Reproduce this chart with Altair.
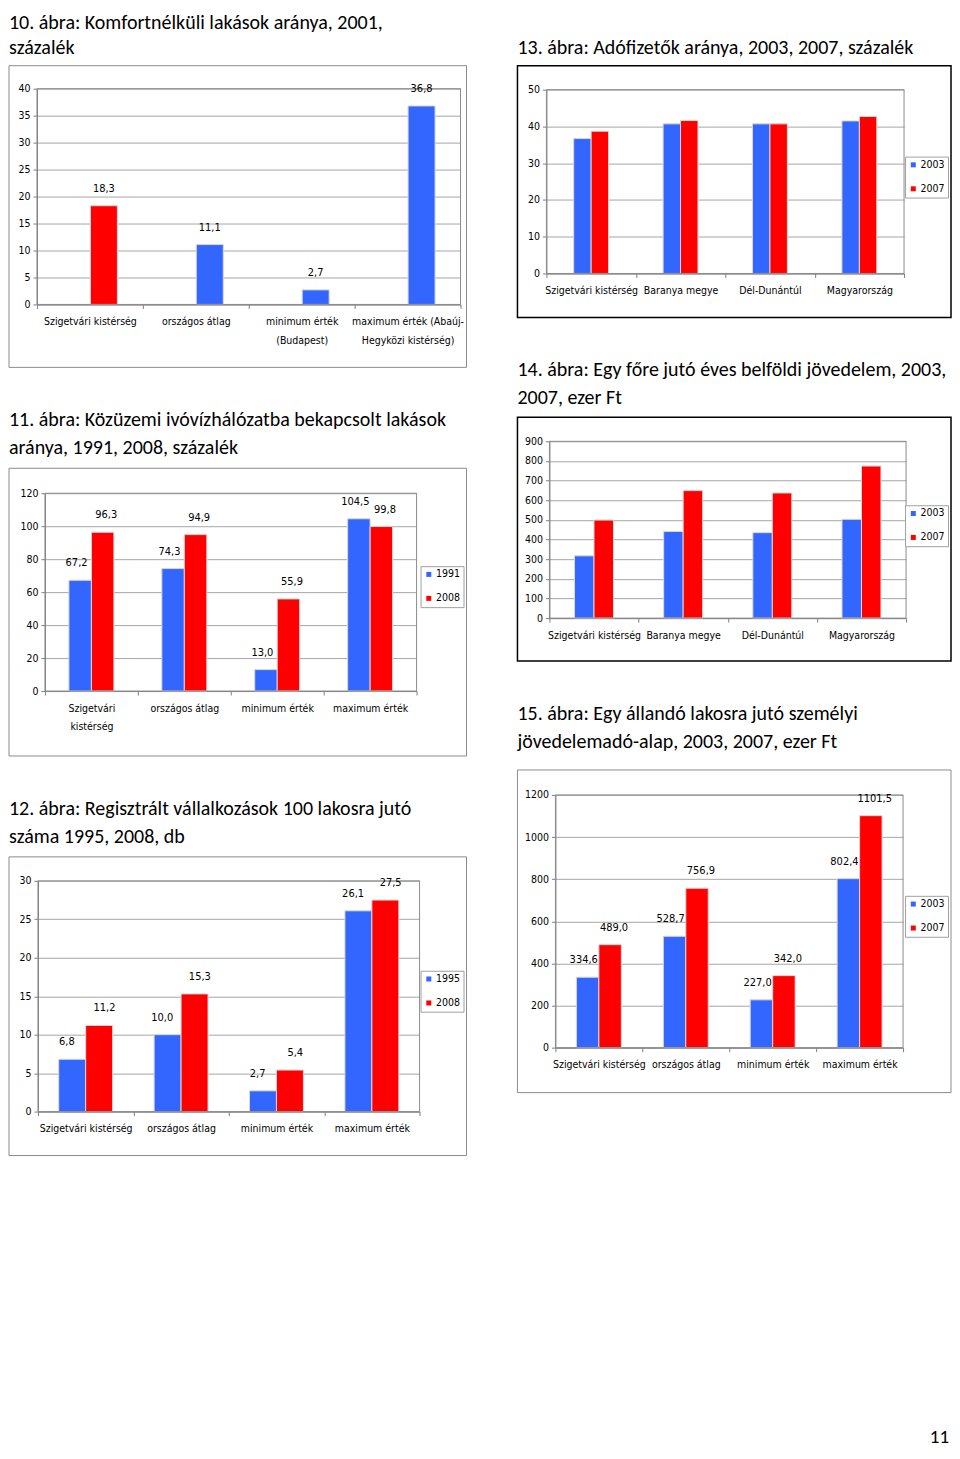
import altair as alt
import pandas as pd

NARROW = "Liberation Sans Narrow, Arial Narrow, DejaVu Sans Condensed, Liberation Sans, Arial, sans-serif"
TFONT = "Carlito, Calibri, Lato, sans-serif"
BLUE = "#3366ff"
RED = "#ff0000"
GRAY = "#8c8c8c"

# ---------------- data ----------------
t10 = ["10. ábra: Komfortnélküli lakások aránya, 2001,", "százalék"]
c10_cats = ["Szigetvári kistérség", "országos átlag", "minimum érték|(Budapest)",
            "maximum érték (Abaúj-|Hegyközi kistérség)"]
c10_vals = [18.3, 11.1, 2.7, 36.8]
c10_colors = [RED, BLUE, BLUE, BLUE]

t11 = ["11. ábra: Közüzemi ivóvízhálózatba bekapcsolt lakások", "aránya, 1991, 2008, százalék"]
c11_cats = ["Szigetvári|kistérség", "országos átlag", "minimum érték", "maximum érték"]
c11_series = ["1991", "2008"]
c11_a = [67.2, 74.3, 13.0, 104.5]
c11_b = [96.3, 94.9, 55.9, 99.8]

t12 = ["12. ábra: Regisztrált vállalkozások 100 lakosra jutó", "száma 1995, 2008, db"]
c12_cats = ["Szigetvári kistérség", "országos átlag", "minimum érték", "maximum érték"]
c12_series = ["1995", "2008"]
c12_a = [6.8, 10.0, 2.7, 26.1]
c12_b = [11.2, 15.3, 5.4, 27.5]

t13 = [" ", "13. ábra: Adófizetők aránya, 2003, 2007, százalék"]
c13_cats = ["Szigetvári kistérség", "Baranya megye", "Dél-Dunántúl", "Magyarország"]
c13_series = ["2003", "2007"]
c13_a = [36.7, 40.7, 40.7, 41.5]
c13_b = [38.7, 41.6, 40.7, 42.7]

t14 = ["14. ábra: Egy főre jutó éves belföldi jövedelem, 2003,", "2007, ezer Ft"]
c14_cats = ["Szigetvári kistérség", "Baranya megye", "Dél-Dunántúl", "Magyarország"]
c14_series = ["2003", "2007"]
c14_a = [317, 441, 435, 503]
c14_b = [499, 649, 637, 774]

t15 = ["15. ábra: Egy állandó lakosra jutó személyi", "jövedelemadó-alap, 2003, 2007, ezer Ft"]
c15_cats = ["Szigetvári kistérség", "országos átlag", "minimum érték", "maximum érték"]
c15_series = ["2003", "2007"]
c15_a = [334.6, 528.7, 227.0, 802.4]
c15_b = [489.0, 756.9, 342.0, 1101.5]

page_number = ["11"]

LABEL_EXPR = "replace(format(datum.v, '.1f'), '.', ',')"
FS_AXIS = 10.5
FS_VAL = 11
WL = 458   # left frames
WR = 434   # right frames


def deco(W, H, pl, pt, pr, pb, frame_color, frame_w, tlines, ty):
    one = pd.DataFrame({"k": [0]})
    frame = alt.Chart(one).mark_rect(fillOpacity=0, stroke=frame_color, strokeWidth=frame_w).encode(
        x=alt.value(0), x2=alt.value(W), y=alt.value(0), y2=alt.value(H))
    border = alt.Chart(one).mark_rect(fillOpacity=0, stroke=GRAY, strokeWidth=1).encode(
        x=alt.value(pl), x2=alt.value(pr), y=alt.value(pt), y2=alt.value(pb))
    tl = []
    for line, yy in zip(tlines, ty):
        tl.append(alt.Chart(pd.DataFrame({"t": [line]})).mark_text(
            font=TFONT, fontSize=20, align="left", baseline="alphabetic", color="black").encode(
            x=alt.value(0), y=alt.value(yy), text="t:N"))
    return frame, border, tl


def axes(cats, W, H, pl, pt, pr, pb, ymax, ystep):
    x = alt.X("cat:N", sort=cats,
              scale=alt.Scale(domain=cats, range=[pl, pr], paddingInner=0, paddingOuter=0),
              axis=alt.Axis(title=None, orient="bottom", offset=-(H - pb), tickBand="extent",
                            labelAngle=0, labelExpr="split(datum.label, '|')",
                            labelFont=NARROW, labelFontSize=FS_AXIS, labelColor="black",
                            labelLineHeight=19, labelPadding=8, labelOverlap=False,
                            domainColor="#808080", tickColor="#808080", tickSize=4, grid=False))
    y = alt.Y("v:Q",
              scale=alt.Scale(domain=[0, ymax], range=[pb, pt], nice=False, zero=True),
              axis=alt.Axis(title=None, orient="left", offset=-pl, format="d",
                            values=list(range(0, ymax + 1, ystep)),
                            labelFont=NARROW, labelFontSize=FS_AXIS, labelColor="black", labelPadding=3,
                            domainColor="#808080", tickColor="#808080", tickSize=4,
                            grid=True, gridColor="#a6a6a6", gridWidth=1))
    return x, y


def offset_channel(series, frac):
    # bars of the two series side by side, the pair covering `frac` of the category band
    if frac >= 0.5:
        dom = list(series)
        q = 1.0 / frac - 1.0
    else:
        dom = ["_a"] + list(series) + ["_b"]
        q = (2.0 / frac - 4.0) / 2.0
    return alt.XOffset("s:N", scale=alt.Scale(domain=dom, paddingOuter=q, paddingInner=0))


def grouped(cats, series, a, b, W, H, pl, pt, pr, pb, ymax, ystep, frac, lx, ly,
            tlines, ty, frame_color, frame_w, labels=True, extra=None):
    rows = []
    for i, c in enumerate(cats):
        rows.append({"cat": c, "s": series[0], "v": a[i]})
        rows.append({"cat": c, "s": series[1], "v": b[i]})
    df = pd.DataFrame(rows)
    x, y = axes(cats, W, H, pl, pt, pr, pb, ymax, ystep)
    xo = offset_channel(series, frac)
    color = alt.Color("s:N", sort=series, scale=alt.Scale(domain=series, range=[BLUE, RED]),
                      legend=alt.Legend(title=None, orient="none", legendX=lx, legendY=ly,
                                        symbolType="square", symbolSize=25, symbolStrokeWidth=0,
                                        labelFont=NARROW, labelFontSize=FS_AXIS, labelColor="black",
                                        labelOffset=2, strokeColor="#a0a0a0", fillColor="white",
                                        padding=3, rowPadding=13))
    frame, border, tl = deco(W, H, pl, pt, pr, pb, frame_color, frame_w, tlines, ty)
    base = alt.Chart(df)
    bars = base.mark_bar(stroke="#d9d9d9", strokeWidth=1).encode(x=x, xOffset=xo, y=y, color=color)
    layers = [frame, bars, border]
    if labels:
        txt = base.transform_calculate(lab=LABEL_EXPR).mark_text(
            font=NARROW, fontSize=FS_VAL, baseline="middle", dy=-17, color="black").encode(
            x=x, xOffset=xo, y=y, text="lab:N")
        layers.append(txt)
    layers += tl
    if extra is not None:
        layers.append(extra)
    return alt.layer(*layers).properties(width=W, height=H).resolve_scale(
        color="independent", xOffset="independent")


# ---------- chart 10 (single series) ----------
H10 = 302
pl, pt, pr, pb = 28, 23, 452, 239
df10 = pd.DataFrame({"cat": c10_cats, "v": c10_vals})
x10, y10 = axes(c10_cats, WL, H10, pl, pt, pr, pb, 40, 5)
col10 = alt.Color("cat:N", sort=c10_cats, scale=alt.Scale(domain=c10_cats, range=c10_colors), legend=None)
f10, b10, tl10 = deco(WL, H10, pl, pt, pr, pb, GRAY, 1, t10, [-37, -12])
bars10 = alt.Chart(df10).mark_bar(size=27, xOffset=14, stroke="#d9d9d9", strokeWidth=1).encode(
    x=x10, y=y10, color=col10)
txt10 = alt.Chart(df10).transform_calculate(lab=LABEL_EXPR).mark_text(
    font=NARROW, fontSize=FS_VAL, baseline="middle", dy=-17, xOffset=14, color="black").encode(
    x=x10, y=y10, text="lab:N")
ch10 = alt.layer(f10, bars10, b10, txt10, *tl10).properties(width=WL, height=H10)

ch11 = grouped(c11_cats, c11_series, c11_a, c11_b, WL, 288, 36, 25, 408, 223, 120, 20,
               0.484, 412, 98, t11, [-42, -14], GRAY, 1)
ch12 = grouped(c12_cats, c12_series, c12_a, c12_b, WL, 299, 29, 24, 411, 255, 30, 5,
               0.565, 412, 114, t12, [-42, -14], GRAY, 1)

ch13 = grouped(c13_cats, c13_series, c13_a, c13_b, WR, 252, 29, 24, 387, 208, 50, 10,
               0.39, 388, 91, t13, [-37, -12], "#000000", 1.5, labels=False)
ch14 = grouped(c14_cats, c14_series, c14_a, c14_b, WR, 244, 32, 24, 389, 201, 900, 100,
               0.437, 388, 88, t14, [-41, -13], "#000000", 1.5, labels=False)

pn = alt.Chart(pd.DataFrame({"t": page_number})).mark_text(
    font=TFONT, fontSize=19, align="right", baseline="middle", color="black").encode(
    x=alt.value(432), y=alt.value(668), text="t:N")
ch15 = grouped(c15_cats, c15_series, c15_a, c15_b, WR, 323, 38, 25, 386, 278, 1200, 200,
               0.517, 388, 126, t15, [-50, -22], GRAY, 1, extra=pn)

left = alt.vconcat(ch10, ch11, ch12, spacing=42).resolve_scale(color="independent", xOffset="independent")
right = alt.vconcat(ch13, ch14, ch15, spacing=42).resolve_scale(color="independent", xOffset="independent")
chart = alt.hconcat(left, right, spacing=49).resolve_scale(
    color="independent", xOffset="independent").properties(
    padding={"left": 0, "top": 4, "right": 0, "bottom": 0},
    background="white").configure_view(strokeWidth=0)

chart.save("out.html", embed_options={"renderer": "svg", "actions": False})
